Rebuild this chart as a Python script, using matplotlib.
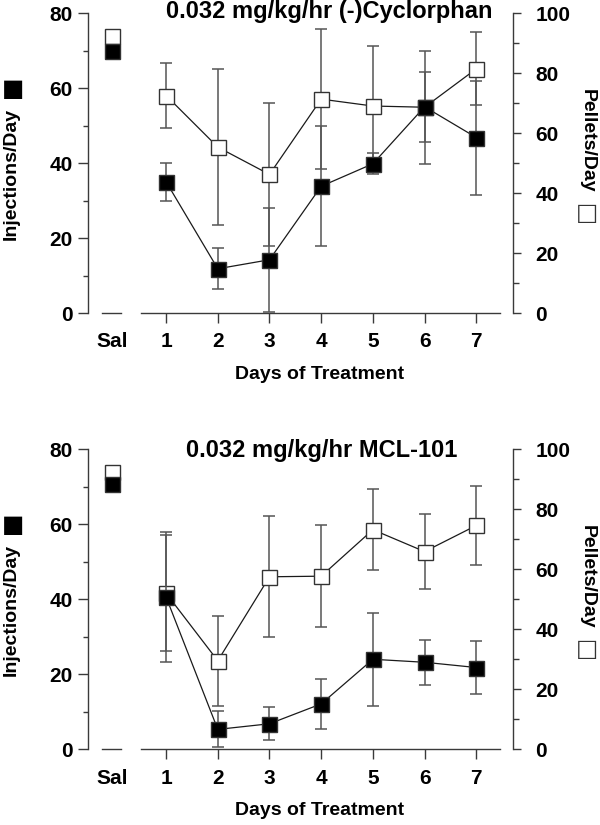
import numpy as np
import matplotlib
matplotlib.use("Agg")
import matplotlib.pyplot as plt
from matplotlib.ticker import MultipleLocator

plt.rcParams['font.family'] = ['Liberation Sans', 'DejaVu Sans']
plt.rcParams['font.weight'] = 'bold'
plt.rcParams['font.size'] = 14

# x positions: saline baseline then treatment days
sal_x = -0.05
days = [1, 2, 3, 4, 5, 6, 7]
xtick_labels = ['Sal', '1', '2', '3', '4', '5', '6', '7']

# top panel: 0.032 mg/kg/hr (-)Cyclorphan
cyc_inj_sal = 70.0
cyc_pel_sal = 92.3
cyc_inj = [35.0, 11.8, 14.2, 33.8, 39.8, 55.0, 46.8]
cyc_inj_err = [5.0, 5.5, 13.8, 16.0, 2.8, 9.3, 15.2]
cyc_pel = [72.5, 55.3, 46.2, 71.3, 69.0, 68.6, 81.4]
cyc_pel_err = [10.9, 26.0, 23.7, 23.4, 20.1, 18.9, 12.2]

# bottom panel: 0.032 mg/kg/hr MCL-101
mcl_inj_sal = 70.7
mcl_pel_sal = 92.5
mcl_inj = [40.6, 5.3, 6.8, 12.1, 24.0, 23.2, 21.8]
mcl_inj_err = [17.4, 4.8, 4.4, 6.7, 12.4, 6.0, 7.0]
mcl_pel = [52.0, 29.5, 57.5, 57.7, 73.2, 65.9, 74.6]
mcl_pel_err = [19.4, 15.0, 20.2, 17.0, 13.6, 12.5, 13.3]

SPINE = '#3a3a3a'
ERR = '#555555'


def panel(fig, rect, title, title_x, title_y, inj_sal, pel_sal, inj, inj_err, pel, pel_err):
    ax = fig.add_axes(rect)
    ax2 = ax.twinx()
    # filled (injections) drawn above open (pellets)
    ax.set_zorder(ax2.get_zorder() + 1)
    ax.patch.set_visible(False)

    # pellets, right axis, open squares
    ax2.errorbar(days, pel, yerr=pel_err, fmt='none', ecolor=ERR, elinewidth=1.1,
                 capsize=4, capthick=1.1, clip_on=False)
    ax2.plot(days, pel, '-', color='#1a1a1a', lw=0.9, marker='s', ms=10.8,
             mfc='white', mec='#333333', mew=1.0, clip_on=False)
    ax2.plot([sal_x], [pel_sal], 's', ms=10.8, mfc='white', mec='#333333', mew=1.0, clip_on=False)

    # injections, left axis, filled squares
    ax.errorbar(days, inj, yerr=inj_err, fmt='none', ecolor=ERR, elinewidth=1.1,
                capsize=4, capthick=1.1, clip_on=False)
    ax.plot(days, inj, '-', color='#1a1a1a', lw=0.9, marker='s', ms=10.8,
            mfc='black', mec='#333333', mew=1.0, clip_on=False)
    ax.plot([sal_x], [inj_sal], 's', ms=10.8, mfc='black', mec='#333333', mew=1.0, clip_on=False)

    ax.set_xlim(-0.51, 7.71)
    ax.set_ylim(0, 80)
    ax2.set_ylim(0, 100)

    for s in ['top', 'right']:
        ax.spines[s].set_visible(False)
    for s in ['top', 'left', 'bottom']:
        ax2.spines[s].set_visible(False)
    ax.spines['bottom'].set_bounds(0.52, 7.46)
    for sp in [ax.spines['left'], ax.spines['bottom'], ax2.spines['right']]:
        sp.set_color(SPINE)
        sp.set_linewidth(1.0)
    # short separate baseline under the saline point
    ax.plot([sal_x - 0.19, sal_x + 0.18], [0, 0], color=SPINE, lw=1.0, clip_on=False)

    ax.set_xticks([sal_x] + days, xtick_labels)
    ax.xaxis.get_major_ticks()[0].tick1line.set_visible(False)
    ax.tick_params(axis='x', length=7, width=1, color=SPINE, pad=7, labelsize=15)

    ax.yaxis.set_major_locator(MultipleLocator(20))
    ax.yaxis.set_minor_locator(MultipleLocator(10))
    ax.tick_params(axis='y', which='major', length=7, width=1, color=SPINE, pad=4, labelsize=15)
    ax.tick_params(axis='y', which='minor', length=3.5, width=1, color=SPINE)

    ax2.yaxis.set_major_locator(MultipleLocator(20))
    ax2.yaxis.set_minor_locator(MultipleLocator(10))
    ax2.tick_params(axis='y', which='major', length=6, width=1, color=SPINE, pad=10, labelsize=15)
    ax2.tick_params(axis='y', which='minor', length=4, width=1, color=SPINE)

    ax.set_xlabel('Days of Treatment', fontweight='bold')
    ax.xaxis.set_label_coords(0.544, -0.177)
    ax.set_ylabel('Injections/Day', fontweight='bold')
    ax.yaxis.set_label_coords(-0.16, 0.465)
    ax2.set_ylabel('Pellets/Day', fontweight='bold', rotation=270, va='bottom')
    ax2.yaxis.set_label_coords(1.155, 0.575)
    # symbol keys next to the axis labels
    ax.text(-0.176, 0.747, '\u25a0', transform=ax.transAxes, ha='center', va='center',
            fontsize=17, family='DejaVu Sans', color='black')
    ax.text(1.174, 0.333, '\u25a1', transform=ax.transAxes, ha='center', va='center',
            fontsize=17, family='DejaVu Sans', color='#333333', fontweight='normal')

    ax.text(title_x, title_y, title, transform=ax.transAxes, ha='center', va='baseline',
            fontsize=17, fontweight='bold')


fig = plt.figure(figsize=(6, 8.25), dpi=100)
panel(fig, [0.1467, 0.6206, 0.7083, 0.3636], '0.032 mg/kg/hr (-)Cyclorphan', 0.567, 0.983,
      cyc_inj_sal, cyc_pel_sal, cyc_inj, cyc_inj_err, cyc_pel, cyc_pel_err)
panel(fig, [0.1467, 0.0918, 0.7083, 0.3636], '0.032 mg/kg/hr MCL-101', 0.55, 0.975,
      mcl_inj_sal, mcl_pel_sal, mcl_inj, mcl_inj_err, mcl_pel, mcl_pel_err)

fig.savefig('out.png', dpi=100)
